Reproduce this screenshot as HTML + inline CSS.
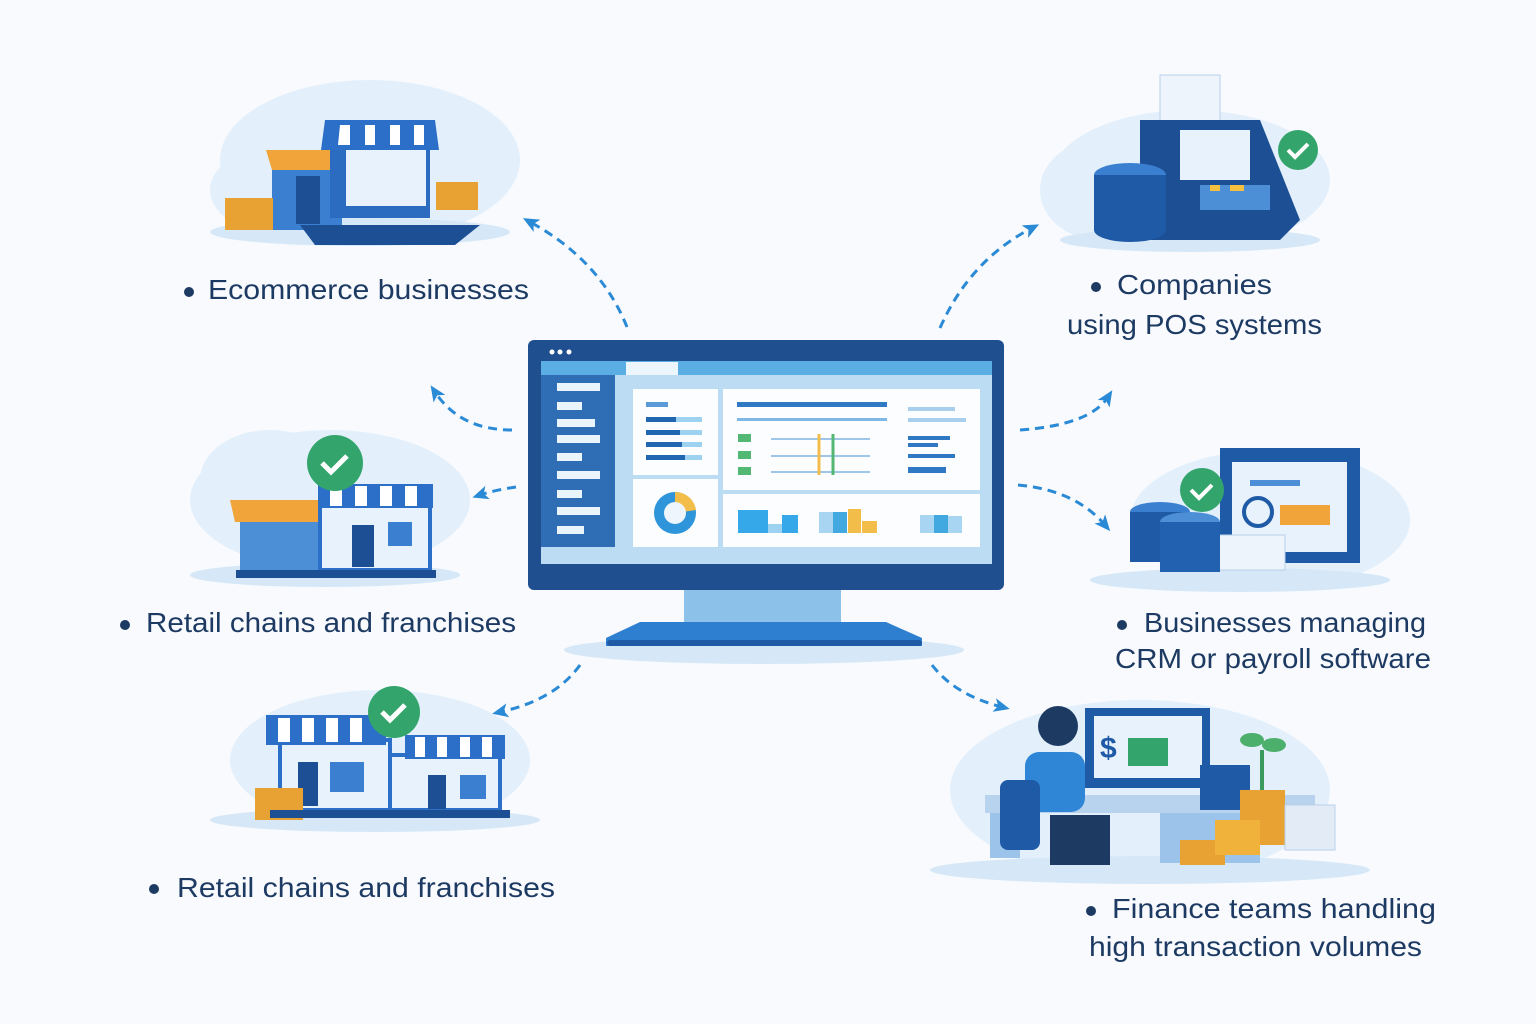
<!DOCTYPE html>
<html><head><meta charset="utf-8"><style>
html,body{margin:0;padding:0;background:#f8fafd;}
svg{display:block}
text{font-family:"Liberation Sans",sans-serif;fill:#1d3a63;font-size:28px}
</style></head><body>
<svg width="1536" height="1024" viewBox="0 0 1536 1024" xmlns="http://www.w3.org/2000/svg">
<rect width="1536" height="1024" fill="#f8fafd"/>
<defs>
<marker id="ah" markerWidth="16" markerHeight="14" refX="8" refY="7" orient="auto" markerUnits="userSpaceOnUse"><path d="M0,0 L16,7 L0,14 L4,7Z" fill="#2b8ad6"/></marker>
</defs>
<!-- clouds -->
<g fill="#e3f0fb">
<ellipse cx="370" cy="160" rx="150" ry="80"/><ellipse cx="300" cy="190" rx="90" ry="50"/>
<ellipse cx="1190" cy="180" rx="140" ry="70"/><ellipse cx="1100" cy="190" rx="60" ry="50"/>
<ellipse cx="330" cy="500" rx="140" ry="70"/><ellipse cx="270" cy="480" rx="70" ry="50"/>
<ellipse cx="1270" cy="520" rx="140" ry="70"/>
<ellipse cx="380" cy="760" rx="150" ry="70"/>
<ellipse cx="1140" cy="790" rx="190" ry="90"/>
</g>
<g fill="#d6e8f7">
<ellipse cx="360" cy="232" rx="150" ry="14"/><ellipse cx="1190" cy="240" rx="130" ry="12"/>
<ellipse cx="325" cy="575" rx="135" ry="12"/><ellipse cx="1240" cy="580" rx="150" ry="12"/>
<ellipse cx="375" cy="820" rx="165" ry="12"/><ellipse cx="1150" cy="870" rx="220" ry="14"/>
<ellipse cx="764" cy="650" rx="200" ry="14"/>
</g>
<!-- Ecommerce illustration -->
<g>
<rect x="272" y="160" width="70" height="70" fill="#3a7fd0"/><rect x="296" y="176" width="24" height="48" fill="#1d4f95"/>
<path d="M266 150h80l-6 20h-68z" fill="#f0a43a"/>
<rect x="330" y="128" width="100" height="90" fill="#2c6cc0"/><rect x="346" y="150" width="80" height="56" fill="#e8f2fc"/>
<path d="M325 120h110l4 30h-118z" fill="#2b6fc8"/><path d="M340 125h10v20h-12zM365 125h10v20h-10zM390 125h10v20h-10zM414 125h10v20h-10z" fill="#fff"/>
<path d="M300 225h180l-25 20h-140z" fill="#1d4f95"/>
<rect x="225" y="198" width="48" height="32" fill="#e8a233"/><rect x="436" y="182" width="42" height="28" fill="#e8a233"/>
</g>
<!-- POS -->
<g>
<rect x="1160" y="75" width="60" height="70" fill="#eef4fb" stroke="#b8d0ea"/>
<path d="M1140 120h120l40 100-20 20h-140z" fill="#1d4f95"/>
<rect x="1180" y="130" width="70" height="50" fill="#e8f2fc"/>
<rect x="1200" y="185" width="70" height="25" fill="#4c8fd6"/><rect x="1210" y="185" width="10" height="6" fill="#f5c040"/><rect x="1230" y="185" width="14" height="6" fill="#f5c040"/>
<ellipse cx="1130" cy="175" rx="36" ry="12" fill="#3b7fd0"/><rect x="1094" y="175" width="72" height="55" fill="#1f5aa6"/><ellipse cx="1130" cy="230" rx="36" ry="12" fill="#1f5aa6"/>
<circle cx="1298" cy="150" r="20" fill="#33a56c"/><path d="M1288 150l7 7 13-13" stroke="#fff" stroke-width="4" fill="none"/>
</g>
<!-- Retail 1 -->
<g>
<rect x="240" y="510" width="80" height="60" fill="#4c8fd6"/><path d="M230 500h95l-5 22h-85z" fill="#f0a43a"/>
<rect x="320" y="500" width="110" height="70" fill="#e8f2fc" stroke="#2b6fc8" stroke-width="4"/>
<path d="M318 484h115v24h-115z" fill="#2b6fc8"/><path d="M330 486h12v20h-12zM355 486h12v20h-12zM380 486h12v20h-12zM405 486h12v20h-12z" fill="#fff"/>
<rect x="352" y="525" width="22" height="42" fill="#1d4f95"/><rect x="388" y="522" width="24" height="24" fill="#3a7fd0"/>
<rect x="236" y="570" width="200" height="8" fill="#1d4f95"/>
<circle cx="335" cy="463" r="28" fill="#33a56c"/><path d="M322 463l9 9 16-16" stroke="#fff" stroke-width="5" fill="none"/>
</g>
<!-- CRM -->
<g>
<rect x="1220" y="448" width="140" height="115" fill="#1f5aa6"/><rect x="1232" y="462" width="115" height="90" fill="#e8f2fc"/>
<rect x="1250" y="480" width="50" height="6" fill="#4c8fd6"/><rect x="1280" y="505" width="50" height="20" fill="#f0a43a"/>
<circle cx="1258" cy="512" r="14" fill="none" stroke="#1f5aa6" stroke-width="4"/>
<rect x="1215" y="535" width="70" height="35" fill="#eef4fb" stroke="#b8d0ea"/>
<ellipse cx="1160" cy="512" rx="30" ry="10" fill="#3b7fd0"/><rect x="1130" y="512" width="60" height="50" fill="#1f5aa6"/>
<ellipse cx="1190" cy="522" rx="30" ry="10" fill="#4c8fd6"/><rect x="1160" y="522" width="60" height="50" fill="#2260b0"/>
<circle cx="1202" cy="490" r="22" fill="#33a56c"/><path d="M1191 490l8 8 13-13" stroke="#fff" stroke-width="4" fill="none"/>
</g>
<!-- Retail 2 -->
<g>
<rect x="280" y="740" width="110" height="70" fill="#e8f2fc" stroke="#2b6fc8" stroke-width="4"/>
<path d="M266 715h120v30h-120z" fill="#2b6fc8"/><path d="M278 718h12v24h-12zM302 718h12v24h-12zM326 718h12v24h-12zM350 718h12v24h-12z" fill="#fff"/>
<rect x="390" y="755" width="110" height="55" fill="#e8f2fc" stroke="#2b6fc8" stroke-width="4"/>
<path d="M405 735h100v24h-100z" fill="#2b6fc8"/><path d="M415 737h10v20h-10zM437 737h10v20h-10zM460 737h10v20h-10zM482 737h10v20h-10z" fill="#fff"/>
<rect x="298" y="762" width="20" height="44" fill="#1d4f95"/><rect x="330" y="762" width="34" height="30" fill="#3a7fd0"/><rect x="428" y="775" width="18" height="34" fill="#1d4f95"/><rect x="460" y="775" width="26" height="24" fill="#3a7fd0"/>
<rect x="255" y="788" width="48" height="32" fill="#e8a233"/><rect x="270" y="810" width="240" height="8" fill="#1d4f95"/>
<circle cx="394" cy="712" r="26" fill="#33a56c"/><path d="M382 712l8 8 15-15" stroke="#fff" stroke-width="5" fill="none"/>
</g>
<!-- Finance -->
<g>
<rect x="1085" y="708" width="125" height="80" fill="#1f5aa6"/><rect x="1094" y="716" width="108" height="62" fill="#e8f2fc"/>
<text x="1100" y="758" style="font-size:30px;fill:#1f5aa6;font-weight:bold">$</text><rect x="1128" y="738" width="40" height="28" fill="#33a56c"/>
<rect x="985" y="795" width="330" height="18" fill="#b8d3ee"/><rect x="990" y="813" width="30" height="45" fill="#9cc3ea"/><rect x="1160" y="813" width="100" height="50" fill="#9cc3ea"/>
<circle cx="1058" cy="726" r="20" fill="#1d3a63"/><rect x="1025" y="752" width="60" height="60" rx="14" fill="#2f86d6"/>
<rect x="1000" y="780" width="40" height="70" rx="8" fill="#1f5aa6"/><rect x="1050" y="815" width="60" height="50" fill="#1d3a63"/>
<rect x="1200" y="765" width="50" height="45" fill="#1f5aa6"/>
<rect x="1240" y="790" width="45" height="55" fill="#e8a233"/><rect x="1180" y="840" width="45" height="25" fill="#e8a233"/><rect x="1215" y="820" width="45" height="35" fill="#f0b23a"/>
<rect x="1285" y="805" width="50" height="45" fill="#e3ecf6" stroke="#b8d0ea"/>
<path d="M1262 790v-40" stroke="#3a9b5c" stroke-width="4"/><ellipse cx="1252" cy="740" rx="12" ry="7" fill="#4caf6c"/><ellipse cx="1274" cy="745" rx="12" ry="7" fill="#4caf6c"/>
</g>
<!-- Monitor -->
<g>
<rect x="528" y="340" width="476" height="250" rx="6" fill="#1f4f8f"/>
<circle cx="552" cy="352" r="2.5" fill="#fff"/><circle cx="560" cy="352" r="2.5" fill="#fff"/><circle cx="569" cy="352" r="2.5" fill="#fff"/>
<rect x="541" y="361" width="451" height="203" fill="#bcdcf3"/>
<rect x="541" y="361" width="451" height="14" fill="#5aaee4"/><rect x="626" y="362" width="52" height="13" fill="#eef6fd"/>
<rect x="541" y="375" width="74" height="172" fill="#2f6db5"/>
<g fill="#eaf4fc"><rect x="557" y="383" width="43" height="8"/><rect x="557" y="402" width="25" height="8"/><rect x="557" y="419" width="38" height="8"/><rect x="557" y="435" width="43" height="8"/><rect x="557" y="453" width="25" height="8"/><rect x="557" y="471" width="43" height="8"/><rect x="557" y="490" width="25" height="8"/><rect x="557" y="507" width="43" height="8"/><rect x="557" y="526" width="27" height="8"/></g>
<rect x="633" y="389" width="85" height="86" fill="#fbfdff"/><rect x="633" y="479" width="85" height="68" fill="#fbfdff"/>
<rect x="723" y="389" width="257" height="101" fill="#fbfdff"/><rect x="723" y="494" width="257" height="53" fill="#fbfdff"/>
<g fill="#2066b0"><rect x="646" y="417" width="30" height="5"/><rect x="646" y="430" width="34" height="5"/><rect x="646" y="442" width="36" height="5"/><rect x="646" y="455" width="39" height="5"/></g>
<g fill="#9dd3f0"><rect x="676" y="417" width="26" height="5"/><rect x="680" y="430" width="22" height="5"/><rect x="682" y="442" width="20" height="5"/><rect x="685" y="455" width="17" height="5"/></g>
<rect x="646" y="402" width="22" height="5" fill="#5a9ad8"/>
<circle cx="675" cy="513" r="21" fill="#2f95da"/><path d="M675 492a21 21 0 0 1 21 18l-21 3z" fill="#f3bd4a"/><circle cx="675" cy="513" r="11" fill="#eef5fc"/>
<rect x="737" y="402" width="150" height="5" fill="#2f78c4"/><rect x="737" y="418" width="150" height="3" fill="#7fb8e4"/>
<g fill="#52b874"><rect x="738" y="434" width="13" height="8"/><rect x="738" y="451" width="13" height="8"/><rect x="738" y="467" width="13" height="8"/></g>
<g stroke="#9dc6e8" stroke-width="2"><line x1="771" y1="439" x2="870" y2="439"/><line x1="771" y1="456" x2="870" y2="456"/><line x1="771" y1="472" x2="870" y2="472"/></g>
<line x1="819" y1="434" x2="819" y2="475" stroke="#f3bd4a" stroke-width="3"/><line x1="833" y1="434" x2="833" y2="475" stroke="#52b874" stroke-width="3"/>
<g fill="#2f78c4"><rect x="908" y="436" width="42" height="4"/><rect x="908" y="443" width="30" height="4"/><rect x="908" y="454" width="47" height="4"/><rect x="908" y="467" width="38" height="6"/></g>
<g fill="#a8d0ee"><rect x="908" y="407" width="47" height="4"/><rect x="908" y="418" width="58" height="4"/></g>
<rect x="738" y="510" width="30" height="23" fill="#34a8e8"/><rect x="768" y="524" width="14" height="9" fill="#9dd3f0"/><rect x="782" y="515" width="16" height="18" fill="#34a8e8"/>
<rect x="819" y="512" width="14" height="21" fill="#a8d6f2"/><rect x="833" y="512" width="14" height="21" fill="#42a8e0"/><rect x="848" y="509" width="13" height="24" fill="#f3bd4a"/><rect x="862" y="521" width="15" height="12" fill="#f3bd4a"/>
<rect x="920" y="515" width="14" height="18" fill="#a8d6f2"/><rect x="934" y="515" width="14" height="18" fill="#42a8e0"/><rect x="948" y="516" width="14" height="17" fill="#a8d6f2"/>
<rect x="684" y="590" width="157" height="32" fill="#8cc2ea"/>
<path d="M640 622h246l36 16v8h-316v-8z" fill="#2f7fd0"/><rect x="607" y="640" width="315" height="6" rx="3" fill="#1f5aa6"/>
</g>
<!-- arrows -->
<g stroke="#2b8ad6" stroke-width="3" fill="none" stroke-dasharray="9 6" marker-end="url(#ah)">
<path d="M627 327 Q600 260 530 222"/>
<path d="M940 328 Q970 260 1032 228"/>
<path d="M512 430 Q460 430 435 392"/>
<path d="M516 487 Q495 490 480 495"/>
<path d="M1020 430 Q1090 425 1108 397"/>
<path d="M1018 485 Q1075 490 1105 525"/>
<path d="M580 665 Q555 700 500 712"/>
<path d="M932 665 Q955 695 1002 707"/>
</g>
<!-- labels -->
<g fill="#1d3a63"><circle cx="189" cy="292" r="5"/><circle cx="1096" cy="287" r="5"/><circle cx="125" cy="625" r="5"/><circle cx="1122" cy="625" r="5"/><circle cx="154" cy="889" r="5"/><circle cx="1091" cy="911" r="5"/></g>
<text x="208" y="299" textLength="321" lengthAdjust="spacingAndGlyphs">Ecommerce businesses</text>
<text x="1117" y="294" textLength="155" lengthAdjust="spacingAndGlyphs">Companies</text>
<text x="1067" y="334" textLength="255" lengthAdjust="spacingAndGlyphs">using POS systems</text>
<text x="146" y="632" textLength="370" lengthAdjust="spacingAndGlyphs">Retail chains and franchises</text>
<text x="1144" y="632" textLength="282" lengthAdjust="spacingAndGlyphs">Businesses managing</text>
<text x="1115" y="668" textLength="316" lengthAdjust="spacingAndGlyphs">CRM or payroll software</text>
<text x="177" y="897" textLength="378" lengthAdjust="spacingAndGlyphs">Retail chains and franchises</text>
<text x="1112" y="918" textLength="324" lengthAdjust="spacingAndGlyphs">Finance teams handling</text>
<text x="1089" y="956" textLength="333" lengthAdjust="spacingAndGlyphs">high transaction volumes</text>
</svg>
</body></html>
